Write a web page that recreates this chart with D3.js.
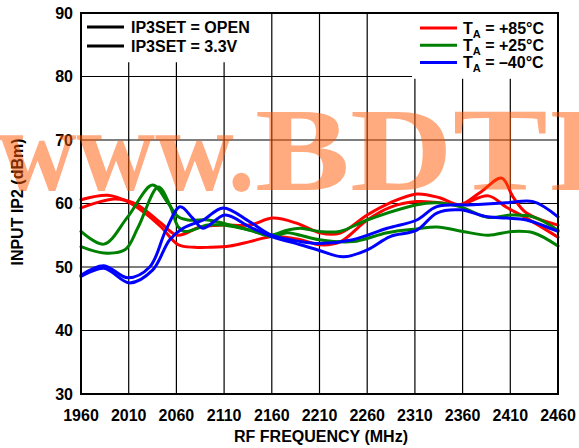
<!DOCTYPE html>
<html lang="en">
<head>
<meta charset="utf-8" />
<title>Input IP2 vs RF Frequency</title>
<script src="https://d3js.org/d3.v7.min.js"></script>
<style>
  body { margin: 0; background: #fff; }
  svg text { font-family: "Liberation Sans", Arial, sans-serif; font-weight: bold; fill: #000; font-size: 16px; }
  .grid line { stroke: #000; stroke-width: 1.2; }
  .curve { fill: none; stroke-width: 3; stroke-linejoin: round; stroke-linecap: round; }
  .wm { font-family: "Liberation Serif", "Times New Roman", serif; font-size: 118px; font-weight: bold; fill: #ff5500; fill-opacity: 0.5; }
</style>
</head>
<body>
<svg id="chart" width="579" height="448"></svg>
<script>
// axis ticks
var freqTicks = [1960, 2010, 2060, 2110, 2160, 2210, 2260, 2310, 2360, 2410, 2460];
var ip2Ticks = [30, 40, 50, 60, 70, 80, 90];

// TA = +85C
var red1Freq = [1960, 1988, 2009, 2027, 2044, 2062, 2079, 2095, 2116, 2137, 2161, 2190, 2210, 2231, 2260, 2284, 2312, 2336, 2357, 2387, 2406, 2427, 2460];
var red1Ip2  = [60.6, 61.3, 60.3, 58.5, 56.3, 53.5, 53.1, 53.1, 53.3, 54.0, 54.8, 54.3, 53.5, 53.9, 57.4, 59.4, 60.3, 60.1, 59.8, 61.2, 59.4, 57.7, 54.7];
var red2Freq = [1960, 1995, 2015, 2027, 2044, 2061, 2085, 2109, 2137, 2161, 2186, 2210, 2231, 2260, 2284, 2312, 2336, 2357, 2378, 2401, 2413, 2427, 2460];
var red2Ip2  = [59.3, 60.7, 60.1, 59.0, 56.9, 55.0, 56.3, 56.6, 56.6, 57.7, 56.9, 55.4, 55.3, 58.2, 60.1, 61.5, 60.9, 59.8, 61.7, 64.0, 61.0, 58.5, 56.6];

// TA = +25C
var green1Freq = [1960, 1984, 2009, 2035, 2051, 2062, 2072, 2093, 2109, 2137, 2158, 2176, 2190, 2210, 2231, 2260, 2312, 2333, 2357, 2387, 2412, 2434, 2460];
var green1Ip2  = [55.6, 53.6, 57.9, 62.9, 60.1, 57.9, 57.4, 57.4, 56.9, 55.8, 55.0, 55.8, 56.1, 55.6, 55.6, 57.4, 59.8, 60.1, 59.5, 57.8, 58.2, 57.9, 55.8];
var green2Freq = [1960, 1984, 2006, 2020, 2041, 2053, 2062, 2069, 2093, 2109, 2137, 2160, 2176, 2190, 2210, 2245, 2281, 2312, 2333, 2360, 2387, 2412, 2434, 2460];
var green2Ip2  = [53.2, 52.2, 52.7, 56.3, 62.6, 59.8, 56.3, 55.6, 56.6, 56.6, 55.8, 54.8, 55.4, 55.0, 54.3, 54.0, 55.4, 56.0, 56.3, 55.6, 55.0, 55.6, 55.4, 53.3];

// TA = -40C
var blue1Freq = [1960, 1984, 2009, 2032, 2049, 2064, 2077, 2088, 2111, 2137, 2160, 2190, 2210, 2235, 2260, 2284, 2312, 2333, 2357, 2386, 2406, 2427, 2460];
var blue1Ip2  = [48.7, 50.2, 48.3, 50.0, 55.8, 59.5, 57.7, 56.1, 58.2, 56.3, 54.8, 53.5, 52.6, 51.6, 52.7, 54.8, 55.8, 58.5, 59.0, 57.9, 57.7, 57.4, 55.6];
var blue2Freq = [1960, 1984, 2011, 2035, 2053, 2067, 2088, 2109, 2137, 2160, 2190, 2210, 2245, 2281, 2312, 2333, 2371, 2406, 2434, 2460];
var blue2Ip2  = [48.5, 49.8, 47.5, 49.5, 54.3, 56.1, 57.4, 59.3, 57.1, 55.0, 54.0, 53.7, 54.3, 56.1, 57.4, 59.5, 59.8, 60.1, 60.3, 57.9];

var seriesList = [
  { color: "#ff0000", f: red1Freq, v: red1Ip2 },
  { color: "#ff0000", f: red2Freq, v: red2Ip2 },
  { color: "#008000", f: green1Freq, v: green1Ip2 },
  { color: "#008000", f: green2Freq, v: green2Ip2 },
  { color: "#0000ff", f: blue1Freq, v: blue1Ip2 },
  { color: "#0000ff", f: blue2Freq, v: blue2Ip2 }
];

var setLegend = ["IP3SET = OPEN", "IP3SET = 3.3V"];
var tempLegend = [
  { color: "#ff0000", label: " = +85\u00b0C" },
  { color: "#008000", label: " = +25\u00b0C" },
  { color: "#0000ff", label: " = \u201340\u00b0C" }
];

var svg = d3.select("#chart");
var plotL = 81, plotR = 558, plotT = 13, plotB = 394;

var x = d3.scaleLinear().domain([1960, 2460]).range([plotL, plotR]);
var y = d3.scaleLinear().domain([30, 90]).range([plotB, plotT]);

// grid
var grid = svg.append("g").attr("class", "grid");
grid.selectAll("line.v").data(freqTicks).enter().append("line")
  .attr("class", "v")
  .attr("x1", function(d) { return x(d); }).attr("x2", function(d) { return x(d); })
  .attr("y1", plotT).attr("y2", plotB);
grid.selectAll("line.h").data(ip2Ticks).enter().append("line")
  .attr("class", "h")
  .attr("x1", plotL).attr("x2", plotR)
  .attr("y1", function(d) { return y(d); }).attr("y2", function(d) { return y(d); });

// legend boxes hide the grid behind them
svg.append("rect").attr("x", plotL + 1).attr("y", plotT + 1)
  .attr("width", x(2135) - plotL).attr("height", y(82.4) - plotT).attr("fill", "#fff");
svg.append("rect").attr("x", x(2307)).attr("y", plotT + 1)
  .attr("width", plotR - x(2307) - 1).attr("height", y(79.8) - plotT).attr("fill", "#fff");

// curves
var line = d3.line()
  .x(function(d) { return x(d[0]); })
  .y(function(d) { return y(d[1]); })
  .curve(d3.curveCatmullRom.alpha(0.5));

svg.append("g").selectAll("path").data(seriesList).enter().append("path")
  .attr("class", "curve")
  .attr("stroke", function(d) { return d.color; })
  .attr("d", function(d) { return line(d3.zip(d.f, d.v)); });

// frame
svg.append("rect").attr("x", plotL).attr("y", plotT)
  .attr("width", plotR - plotL).attr("height", plotB - plotT)
  .attr("fill", "none").attr("stroke", "#000").attr("stroke-width", 2);

// tick labels
svg.append("g").selectAll("text").data(ip2Ticks).enter().append("text")
  .attr("x", 73).attr("y", function(d) { return y(d); })
  .attr("dy", "0.36em").attr("text-anchor", "end")
  .text(function(d) { return d; });
svg.append("g").selectAll("text").data(freqTicks).enter().append("text")
  .attr("x", function(d) { return x(d); }).attr("y", 421)
  .attr("text-anchor", "middle")
  .text(function(d) { return d; });

// axis titles
svg.append("text").attr("x", 321).attr("y", 442)
  .attr("text-anchor", "middle")
  .text("RF FREQUENCY (MHz)");
svg.append("text").attr("transform", "translate(23,202) rotate(-90)")
  .attr("text-anchor", "middle")
  .text("INPUT IP2 (dBm)");

// IP3SET legend
var lg1 = svg.append("g").selectAll("g").data(setLegend).enter().append("g")
  .attr("transform", function(d, i) { return "translate(87," + (27 + i * 19) + ")"; });
lg1.append("line").attr("x1", 0).attr("x2", 37).attr("stroke", "#000").attr("stroke-width", 3);
lg1.append("text").attr("x", 44).attr("dy", "0.36em")
  .text(function(d) { return d; });

// temperature legend
var lg2 = svg.append("g").selectAll("g").data(tempLegend).enter().append("g")
  .attr("transform", function(d, i) { return "translate(420," + (28 + i * 17.3) + ")"; });
lg2.append("line").attr("x1", 0).attr("x2", 37).attr("stroke-width", 3)
  .attr("stroke", function(d) { return d.color; });
var t2 = lg2.append("text").attr("x", 43).attr("dy", "0.36em");
t2.append("tspan").text("T");
t2.append("tspan").attr("dy", 4).style("font-size", "11px").text("A");
t2.append("tspan").attr("dy", -4).text(function(d) { return d.label; });

// watermark on top
svg.append("text").attr("class", "wm").attr("x", -2).attr("y", 190)
  .attr("textLength", 257).attr("lengthAdjust", "spacingAndGlyphs")
  .text("www.");
svg.append("text").attr("class", "wm").attr("x", 255).attr("y", 190)
  .attr("textLength", 348).attr("lengthAdjust", "spacingAndGlyphs")
  .text("BDTI");
</script>
</body>
</html>
